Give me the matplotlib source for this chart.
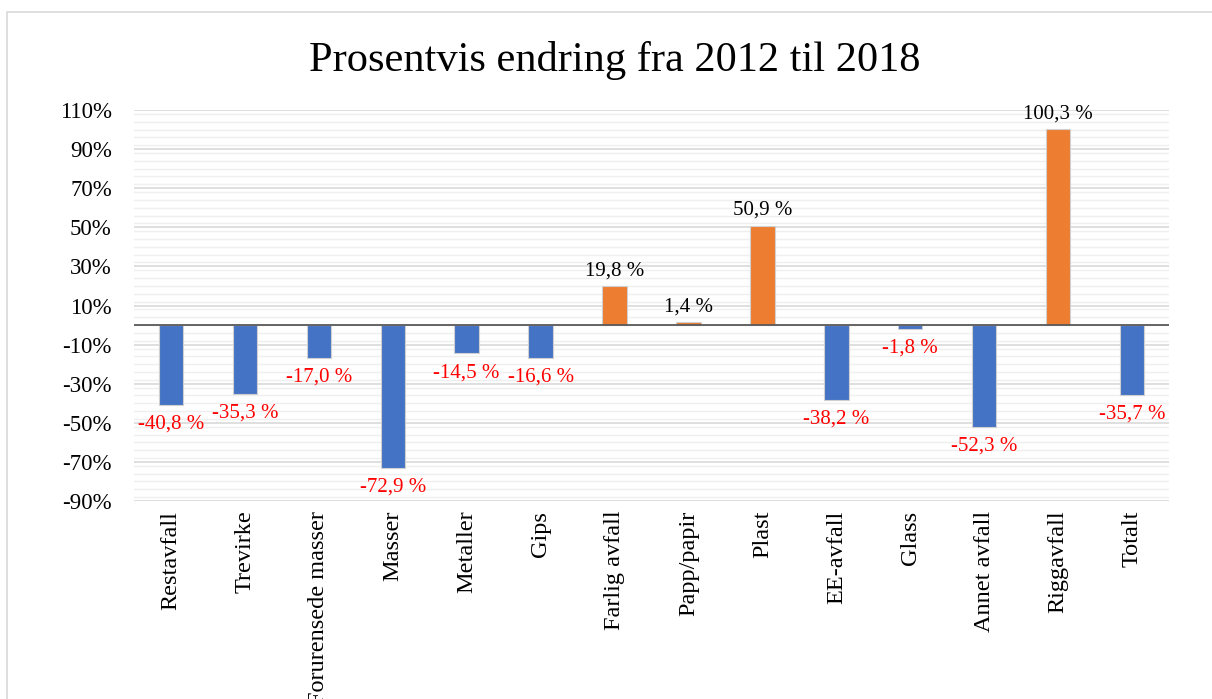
import numpy as np
import matplotlib.pyplot as plt
from matplotlib.patches import Rectangle
from matplotlib.ticker import MultipleLocator

categories = ["Restavfall", "Trevirke", "Forurensede masser", "Masser", "Metaller",
              "Gips", "Farlig avfall", "Papp/papir", "Plast", "EE-avfall", "Glass",
              "Annet avfall", "Riggavfall", "Totalt"]
change = [-40.8, -35.3, -17.0, -72.9, -14.5, -16.6, 19.8, 1.4, 50.9, -38.2, -1.8,
          -52.3, 100.3, -35.7]
yticks = [-90, -70, -50, -30, -10, 10, 30, 50, 70, 90, 110]

BLUE = "#4472C4"
ORANGE = "#ED7D31"
SERIF = ["Liberation Serif", "DejaVu Serif"]

plt.rcParams['font.family'] = SERIF

fig = plt.figure(figsize=(12.12, 6.99), dpi=100)
ax = fig.add_axes([134 / 1212, 1 - 501 / 699, 1035 / 1212, 391 / 699])

# light outer frame of the chart area
fig.patches.append(Rectangle((7 / 1212, -0.05), 1.2, 1.05 - 12 / 699,
                             transform=fig.transFigure, fill=False,
                             edgecolor="#d9d9d9", linewidth=1.2, zorder=0))

x = np.arange(len(categories))
colors = [ORANGE if v > 0 else BLUE for v in change]
ax.bar(x, change, width=0.33, color=colors, edgecolor="#d0d0d0", linewidth=0.8, zorder=3)

ax.set_xlim(-0.5, len(categories) - 0.5)
ax.set_ylim(-90, 110)
ax.set_yticks(yticks)
ax.set_yticklabels([f"{t}%" for t in yticks])
ax.yaxis.set_minor_locator(MultipleLocator(4))
ax.grid(axis="y", which="major", color="#d9d9d9", linewidth=1.2, zorder=0)
ax.grid(axis="y", which="minor", color="#efefef", linewidth=1.0, zorder=0)
ax.axhline(0, color="#595959", linewidth=1.3, zorder=4)

ax.set_xticks(x)
ax.set_xticklabels(categories, rotation=90, va="top", ha="center")
ax.tick_params(axis="x", length=0, pad=7, labelsize=17.5)
ax.tick_params(axis="y", which="both", length=0, pad=16, labelsize=16.5)
for s in ax.spines.values():
    s.set_visible(False)

for xi, v in zip(x, change):
    txt = f"{v:.1f}".replace(".", ",") + " %"
    if v > 0:
        ax.annotate(txt, (xi, v), xytext=(0, 4), textcoords="offset points",
                    ha="center", va="bottom", fontsize=15, color="black")
    else:
        ax.annotate(txt, (xi, v), xytext=(0, -7), textcoords="offset points",
                    ha="center", va="top", fontsize=15, color="#FF0000")

fig.text(615 / 1212, 1 - 60 / 699, "Prosentvis endring fra 2012 til 2018",
         ha="center", va="center", fontsize=30.5)

fig.savefig("out.png", dpi=100)
